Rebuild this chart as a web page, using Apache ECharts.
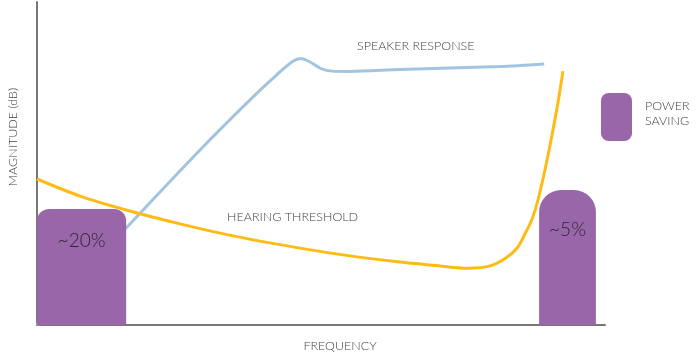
<!DOCTYPE html>
<html>
<head>
<meta charset="utf-8">
<script src="https://cdn.jsdelivr.net/npm/echarts@6/dist/echarts.min.js"></script>
<style>html,body{margin:0;padding:0;background:#fff}#c{width:700px;height:357px}</style>
</head>
<body>
<div id="c"></div>
<script>
// Speaker response curve [frequency, magnitude] (arbitrary 0-100 units)
const speakerResponse = [
  [0, 0], [15.7, 30.0], [28.7, 54.2], [37.5, 69.7], [42.3, 77.6],
  [45.0, 81.6], [46.5, 82.5], [48.0, 81.5], [50.0, 79.4], [52.0, 78.6],
  [55.0, 78.5], [63.9, 79.1], [81.5, 80.0], [89.3, 80.8]
];
// Hearing threshold curve
const hearingThreshold = [
  [0, 45.2], [7.6, 39.9], [15.7, 35.6], [25.2, 31.3], [34.5, 27.6], [46.3, 23.8],
  [55.1, 21.4], [63.9, 19.5], [70.9, 18.3], [75.7, 17.6], [79.8, 18.3],
  [82.6, 20.8], [84.6, 24.0], [86.0, 28.5], [87.2, 33.0], [88.2, 38.7],
  [89.8, 51.1], [91.5, 66.6], [92.6, 78.6]
];
// Power saving blocks
const savingStart = [0, 88.4];
const savingEnd = [15.7, 98.4];
const savingHeight = [35.9, 41.8];
const savingLabel = ['~20%', '~5%'];

const FONT = 'Lato';
const TXT = '#3f3f3f';
const PURPLE = '#9966a9';

const chart = echarts.init(document.getElementById('c'));
chart.setOption({
  animation: false,
  backgroundColor: '#fff',
  grid: { left: 37, right: 95, top: 2, bottom: 32 },
  xAxis: {
    type: 'value', min: 0, max: 100,
    axisLine: { show: true, lineStyle: { color: '#777', width: 2 } },
    axisTick: { show: false }, axisLabel: { show: false }, splitLine: { show: false }
  },
  yAxis: {
    type: 'value', min: 0, max: 100,
    axisLine: { show: true, lineStyle: { color: '#777', width: 2 } },
    axisTick: { show: false }, axisLabel: { show: false }, splitLine: { show: false }
  },
  legend: {
    data: [{ name: 'POWER SAVING', icon: 'roundRect' }],
    left: 601, top: 93, padding: 0,
    itemWidth: 31, itemHeight: 48, itemGap: 0,
    formatter: function (name) {
      const parts = name.split(' ');
      return '{a|' + parts[0] + '}\n{a|' + parts[1] + '}\n{b| }';
    },
    textStyle: {
      color: TXT, padding: [0, 0, 0, 8],
      rich: {
        a: { fontFamily: FONT, fontWeight: 300, fontSize: 12.5, color: TXT, lineHeight: 15 },
        b: { fontSize: 6, lineHeight: 8 }
      }
    },
    selectedMode: false
  },
  graphic: [
    { type: 'text', left: 357, top: 39, style: { text: 'SPEAKER RESPONSE', font: '300 12.5px Lato', fill: TXT } },
    { type: 'text', left: 227, top: 210, style: { text: 'HEARING THRESHOLD', font: '300 12.5px Lato', fill: TXT } },
    { type: 'text', x: 340, y: 346, style: { text: 'FREQUENCY', font: '300 12.5px Lato', fill: TXT, align: 'center', verticalAlign: 'middle' } },
    { type: 'text', x: 13, y: 137, rotation: Math.PI / 2, style: { text: 'MAGNITUDE (dB)', font: '300 12.5px Lato', fill: TXT, align: 'center', verticalAlign: 'middle' } }
  ],
  series: [
    {
      type: 'line', name: 'speaker', data: speakerResponse, z: 1,
      smooth: 0.3, symbol: 'none',
      lineStyle: { color: '#a2c4e0', width: 3 }
    },
    {
      type: 'custom', name: 'POWER SAVING', z: 2,
      itemStyle: { color: PURPLE },
      data: savingStart.map((s, i) => [s, savingEnd[i], savingHeight[i]]),
      renderItem: function (params, api) {
        const i = params.dataIndex;
        const p0 = api.coord([api.value(0), api.value(2)]);
        const p1 = api.coord([api.value(1), 0]);
        const w = p1[0] - p0[0], h = p1[1] - p0[1];
        const r = i === 0 ? 12 : 22;
        return {
          type: 'group',
          children: [
            { type: 'rect', shape: { x: p0[0], y: p0[1], width: w, height: h, r: [r, r, 0, 0] }, style: { fill: PURPLE } },
            { type: 'text', x: p0[0] + w / 2, y: p0[1] + (i === 0 ? 32 : 40),
              style: { text: savingLabel[i], font: '300 19px Lato', fill: '#2e2533', align: 'center', verticalAlign: 'middle' } }
          ]
        };
      }
    },
    {
      type: 'line', name: 'threshold', data: hearingThreshold, z: 3,
      smooth: 0.3, symbol: 'none',
      lineStyle: { color: '#fdbb16', width: 3 }
    }
  ]
});
</script>
</body>
</html>
